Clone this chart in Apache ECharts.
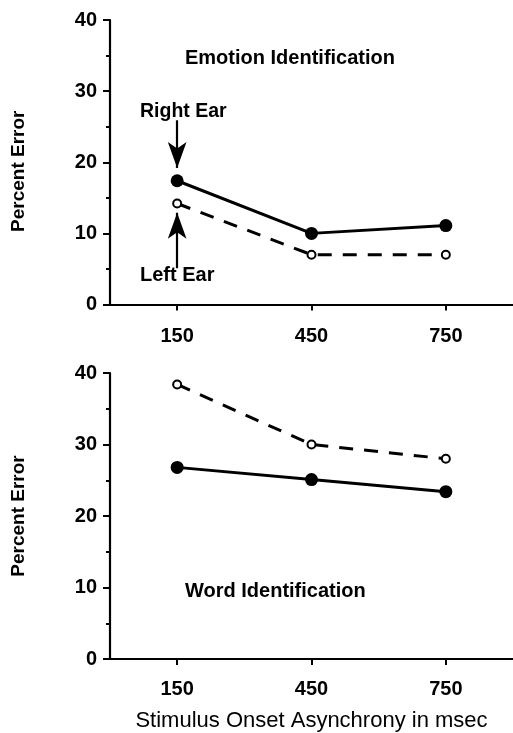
<!DOCTYPE html>
<html>
<head>
<meta charset="utf-8">
<script src="https://cdn.jsdelivr.net/npm/echarts@6/dist/echarts.min.js"></script>
<style>
html,body{margin:0;padding:0;background:#fff;}
#chart{width:513px;height:733px;}
</style>
</head>
<body>
<div id="chart"></div>
<script>
// ---- data ----
const soaValues = [150, 450, 750];            // Stimulus Onset Asynchrony (msec)
const emotionRightEar = [17.4, 10.0, 11.1];   // Percent error, right ear
const emotionLeftEar  = [14.2, 7.0, 7.0];     // Percent error, left ear
const wordRightEar    = [26.8, 25.1, 23.4];
const wordLeftEar     = [38.4, 30.0, 28.0];
const xTickLabels = [150, 450, 750];
const yTickValues = [0, 10, 20, 30, 40];
const panelTitles = ['Emotion Identification', 'Word Identification'];
const earLabels = ['Right Ear', 'Left Ear'];
const yAxisTitle = 'Percent Error';
const xAxisTitle = 'Stimulus Onset Asynchrony in msec';

const FONT = '"Liberation Sans", Arial, sans-serif';
const pairs = (xs, ys) => xs.map((x, i) => [x, ys[i]]);

function xAxisDef(gridIndex, withName, margin) {
  return {
    type: 'value', gridIndex, min: 0, max: 900,
    axisLine: {show: true, lineStyle: {color: '#000', width: 2.2}},
    axisTick: {show: true, customValues: xTickLabels, length: 6, lineStyle: {color: '#000', width: 2}},
    axisLabel: {show: true, customValues: xTickLabels, color: '#000', fontFamily: FONT, fontWeight: 'bold', fontSize: 20, margin: margin},
    splitLine: {show: false},
    name: withName ? xAxisTitle : '',
    nameLocation: 'middle', nameGap: 51,
    nameTextStyle: {color: '#000', fontFamily: FONT, fontSize: 22}
  };
}
function yAxisDef(gridIndex, namePadding) {
  return {
    type: 'value', gridIndex, min: 0, max: 40, interval: 10,
    axisLine: {show: true, onZero: false, lineStyle: {color: '#000', width: 2.2}},
    axisTick: {show: true, length: 7, lineStyle: {color: '#000', width: 2}},
    minorTick: {show: true, splitNumber: 2, length: 4, lineStyle: {color: '#000', width: 2}},
    axisLabel: {color: '#000', fontFamily: FONT, fontWeight: 'bold', fontSize: 20, margin: 13},
    splitLine: {show: false},
    name: yAxisTitle, nameLocation: 'middle', nameRotate: 90, nameGap: 82,
    nameTextStyle: {color: '#000', fontFamily: FONT, fontWeight: 'bold', fontSize: 19, padding: namePadding}
  };
}

const solidStyle = {color: '#000', width: 3, type: 'solid'};
const dashStyle = {color: '#000', width: 3, type: [14, 11]};

function rightSeries(xi, yi, data, markLine) {
  const s = {
    type: 'line', xAxisIndex: xi, yAxisIndex: yi, data: pairs(soaValues, data),
    symbol: 'circle', symbolSize: 13, lineStyle: solidStyle,
    itemStyle: {color: '#000'}, z: 3, silent: true
  };
  if (markLine) s.markLine = markLine;
  return s;
}
function leftSeries(xi, yi, data, markLine) {
  const s = {
    type: 'line', xAxisIndex: xi, yAxisIndex: yi, data: pairs(soaValues, data),
    symbol: 'emptyCircle', symbolSize: 8, lineStyle: dashStyle,
    itemStyle: {color: '#000', borderColor: '#000', borderWidth: 2.2}, z: 4, silent: true
  };
  if (markLine) s.markLine = markLine;
  return s;
}

// arrow annotations, positioned in data space near the first (150 ms) points
const arrowStyle = {color: '#000', width: 2.2, type: 'solid'};
const rightArrow = {
  silent: true, symbol: ['none', 'arrow'], symbolSize: [14, 26],
  label: {show: false}, lineStyle: arrowStyle, animation: false,
  data: [[{coord: [soaValues[0], 25.9]}, {coord: [soaValues[0], 19.2]}]]
};
const leftArrow = {
  silent: true, symbol: ['none', 'arrow'], symbolSize: [14, 26],
  label: {show: false}, lineStyle: arrowStyle, animation: false,
  data: [[{coord: [soaValues[0], 5.1]}, {coord: [soaValues[0], 12.9]}]]
};

const chart = echarts.init(document.getElementById('chart'), null, {renderer: 'canvas'});
const textStyle = (size) => ({fill: '#000', font: 'bold ' + size + 'px ' + FONT, verticalAlign: 'middle', align: 'left'});

chart.setOption({
  animation: false,
  backgroundColor: '#fff',
  grid: [
    {left: 110, right: 0, top: 20, height: 284.5, containLabel: false, outerBoundsMode: 'none'},
    {left: 110, right: 0, top: 373, height: 286, containLabel: false, outerBoundsMode: 'none'}
  ],
  xAxis: [xAxisDef(0, false, 22), xAxisDef(1, true, 20)],
  yAxis: [yAxisDef(0, [0, 18, 0, 0]), yAxisDef(1, 0)],
  series: [
    rightSeries(0, 0, emotionRightEar, rightArrow),
    leftSeries(0, 0, emotionLeftEar, leftArrow),
    rightSeries(1, 1, wordRightEar),
    leftSeries(1, 1, wordLeftEar)
  ],
  graphic: [
    {type: 'text', x: 185, y: 58, style: Object.assign({text: panelTitles[0]}, textStyle(20))},
    {type: 'text', x: 185, y: 591, style: Object.assign({text: panelTitles[1]}, textStyle(20))},
    {type: 'text', x: 140, y: 112, style: Object.assign({text: earLabels[0]}, textStyle(19.5))},
    {type: 'text', x: 140, y: 275, style: Object.assign({text: earLabels[1]}, textStyle(20))}
  ]
});
</script>
</body>
</html>
